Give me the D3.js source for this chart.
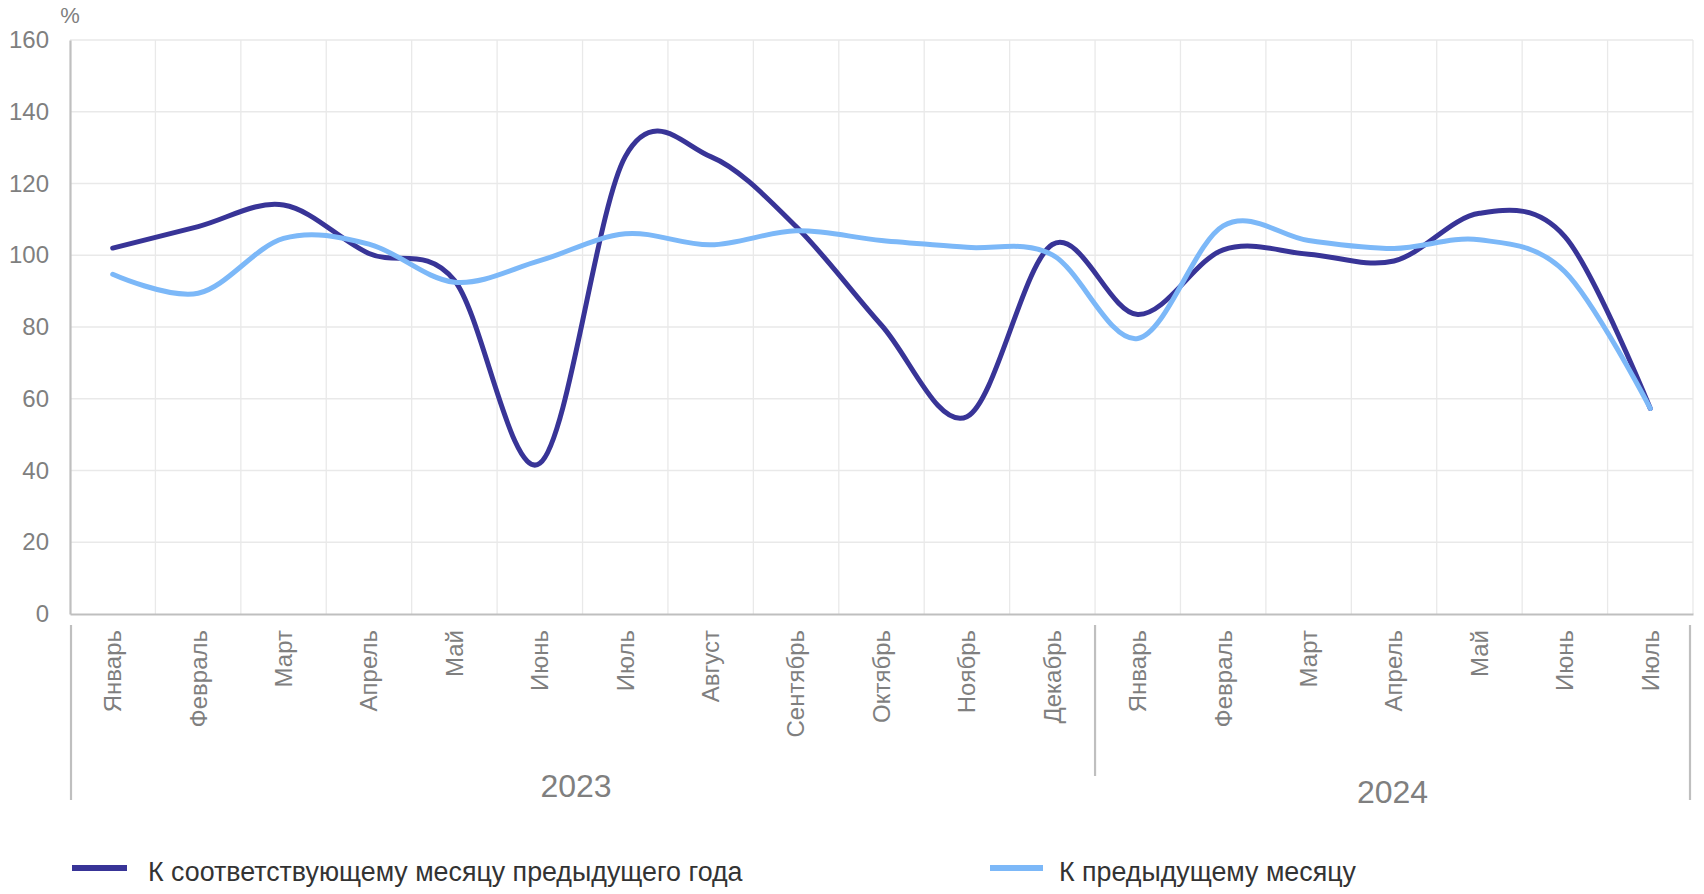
<!DOCTYPE html>
<html>
<head>
<meta charset="utf-8">
<script src="https://cdn.jsdelivr.net/npm/d3@7/dist/d3.min.js"></script>
<style>
  html, body { margin: 0; padding: 0; background: #fff; }
  svg { display: block; font-family: "Liberation Sans", Arial, sans-serif; }
</style>
</head>
<body>
<svg id="chart" width="1704" height="894"></svg>
<script>
// ---- Data ----
const months = ["Январь","Февраль","Март","Апрель","Май","Июнь","Июль","Август","Сентябрь","Октябрь","Ноябрь","Декабрь",
                "Январь","Февраль","Март","Апрель","Май","Июнь","Июль"];
const years = [
  {label: "2023", from: 0, to: 11},
  {label: "2024", from: 12, to: 18}
];
const yoySeries = [102, 108, 114, 100.5, 93, 42, 127.5, 127.5, 108, 80.5, 55, 103, 83.5, 101.5, 100.3, 98.4, 111.7, 105.2, 57.3];
const momSeries = [94.7, 89.4, 104.7, 103.1, 92.5, 98.5, 106, 102.9, 106.8, 104.1, 102.2, 100.1, 76.8, 108.2, 104.1, 101.9, 104.3, 95.4, 57.3];
const yTicks = [0, 20, 40, 60, 80, 100, 120, 140, 160];
const seriesNames = ["К соответствующему месяцу предыдущего года", "К предыдущему месяцу"];
const seriesColors = ["#383497", "#7cb8f8"];

(function draw() {
  const svg = d3.select("#chart");
  const pL = 70, pR = 1693, pT = 40, pB = 614;
  const idx = months.map((d, i) => i);

  const x = d3.scaleBand().domain(idx).range([pL, pR]).paddingInner(0).paddingOuter(0);
  const y = d3.scaleLinear().domain([0, 160]).range([pB, pT]);
  const cx = i => x(i) + x.bandwidth() / 2;

  // gridlines
  const grid = svg.append("g");
  grid.selectAll("line.h").data(yTicks.filter(t => t > 0)).join("line").attr("class", "h")
    .attr("x1", pL).attr("x2", pR)
    .attr("y1", d => y(d)).attr("y2", d => y(d))
    .attr("stroke", "#e9e9e9").attr("stroke-width", 1.3);
  grid.selectAll("line.v").data(idx).join("line").attr("class", "v")
    .attr("x1", d => x(d) + x.bandwidth()).attr("x2", d => x(d) + x.bandwidth())
    .attr("y1", pT).attr("y2", pB)
    .attr("stroke", "#e9e9e9").attr("stroke-width", 1.3);

  // y axis
  const yAxis = d3.axisLeft(y).tickValues(yTicks).tickSize(0).tickPadding(21);
  const gy = svg.append("g").attr("transform", `translate(${pL},0)`).call(yAxis);
  gy.select(".domain").attr("stroke", "#bfbfbf").attr("stroke-width", 2.2);
  gy.selectAll("text").attr("fill", "#7f7f7f").attr("font-size", 24).attr("font-family", "Liberation Sans, Arial, sans-serif");

  svg.append("text").attr("x", 70).attr("y", 23).attr("text-anchor", "middle")
    .attr("fill", "#7f7f7f").attr("font-size", 22).text("%");

  // x axis
  const xAxis = d3.axisBottom(x).tickFormat(i => months[i]).tickSize(0).tickPadding(0);
  const gx = svg.append("g").attr("transform", `translate(0,${pB})`).call(xAxis);
  gx.select(".domain").attr("stroke", "#bfbfbf").attr("stroke-width", 2.2);
  gx.selectAll(".tick text")
    .attr("fill", "#7f7f7f").attr("font-size", 24).attr("font-family", "Liberation Sans, Arial, sans-serif")
    .attr("text-anchor", "end")
    .attr("transform", "rotate(-90)")
    .attr("x", -16).attr("y", 0).attr("dy", "0.35em");

  // category group separators
  const sepTop = 625;
  const seps = [
    {x: pL + 1, y2: 800},
    {x: x(years[1].from), y2: 776},
    {x: pR - 3, y2: 800}
  ];
  svg.append("g").selectAll("line").data(seps).join("line")
    .attr("x1", d => d.x).attr("x2", d => d.x)
    .attr("y1", sepTop).attr("y2", d => d.y2)
    .attr("stroke", "#bfbfbf").attr("stroke-width", 2.2);

  const yearBaselines = [797, 803];
  const yearShift = [-6.5, -1.5];
  svg.append("g").selectAll("text").data(years).join("text")
    .attr("x", (d, i) => (x(d.from) + x(d.to) + x.bandwidth()) / 2 + yearShift[i])
    .attr("y", (d, i) => yearBaselines[i])
    .attr("text-anchor", "middle")
    .attr("fill", "#7f7f7f").attr("font-size", 32)
    .text(d => d.label);

  // lines
  const line = d3.line().x((d, i) => cx(i)).y(d => y(d)).curve(d3.curveCatmullRom.alpha(0));
  [yoySeries, momSeries].forEach((s, k) => {
    svg.append("path").datum(s).attr("d", line)
      .attr("fill", "none").attr("stroke", seriesColors[k]).attr("stroke-width", 5)
      .attr("stroke-linecap", "round").attr("stroke-linejoin", "round");
  });

  // legend
  const legendItems = [
    {x1: 72, x2: 127, tx: 148},
    {x1: 990, x2: 1043, tx: 1059}
  ];
  const lg = svg.append("g");
  legendItems.forEach((l, k) => {
    lg.append("line").attr("x1", l.x1).attr("x2", l.x2).attr("y1", 868).attr("y2", 868)
      .attr("stroke", seriesColors[k]).attr("stroke-width", 6);
    lg.append("text").attr("x", l.tx).attr("y", 881).attr("fill", "#333")
      .attr("font-size", 26.8).text(seriesNames[k]);
  });
})();
</script>
</body>
</html>
